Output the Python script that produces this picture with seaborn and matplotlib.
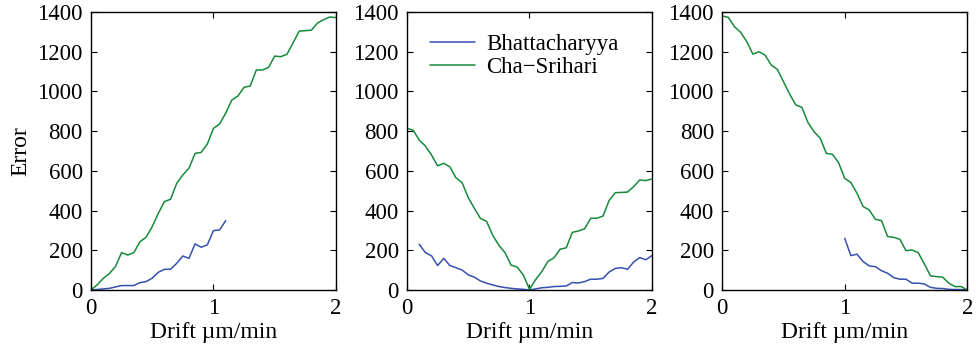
import numpy as np
import pandas as pd
import seaborn as sns
import matplotlib.pyplot as plt

# drift grid, step 0.05 um/min
drift = np.round(np.arange(0, 2.0001, 0.05), 2)

# panel 1
cha_1 = [0, 25, 58, 82, 118, 188, 176, 188, 243, 265, 319, 386, 445, 457, 537, 579, 613,
         688, 693, 735, 814, 836, 890, 957, 977, 1021, 1027, 1108, 1108, 1121, 1178, 1175,
         1187, 1245, 1304, 1306, 1309, 1345, 1362, 1375, 1372]
bha_1 = [0, 2, 5, 8, 15, 22, 22, 22, 37, 42, 59, 89, 104, 104, 134, 171, 159, 232, 215,
         227, 299, 302, 349]

# panel 2
cha_2 = [814, 805, 755, 725, 680, 625, 638, 620, 565, 540, 465, 411, 360, 345, 275, 225,
         188, 125, 115, 75, 3, 52, 92, 143, 162, 205, 212, 290, 297, 308, 361, 361, 372,
         450, 490, 491, 493, 520, 554, 551, 559]
bha_2 = [230, 188, 172, 123, 159, 123, 112, 100, 76, 64, 45, 34, 25, 17, 12, 8, 5, 3, 0,
         5, 11, 13, 17, 18, 20, 37, 35, 42, 54, 54, 58, 90, 108, 112, 104, 140, 163, 152, 173]

# panel 3
cha_3 = [1380, 1373, 1326, 1298, 1251, 1188, 1200, 1183, 1133, 1111, 1049, 987, 932, 920,
         843, 797, 764, 688, 683, 641, 562, 541, 487, 420, 403, 356, 349, 269, 265, 255,
         198, 201, 188, 131, 71, 67, 64, 34, 17, 17, 0]
bha_3 = [260, 173, 180, 143, 121, 117, 97, 84, 62, 54, 54, 34, 34, 30, 13, 8, 7, 3, 2, 2, 0]

panels = [
    (drift[:len(bha_1)], bha_1, drift, cha_1),
    (drift[2:], bha_2, drift, cha_2),
    (drift[-len(bha_3):], bha_3, drift, cha_3),
]

blue = '#3550b0'
green = '#168a3a'

sns.set_style("ticks")
plt.rcParams['font.family'] = ['Liberation Serif', 'DejaVu Serif']
plt.rcParams['text.color'] = 'black'
plt.rcParams['axes.labelcolor'] = 'black'
plt.rcParams['xtick.color'] = 'black'
plt.rcParams['ytick.color'] = 'black'

fig = plt.figure(figsize=(9.76, 3.54), dpi=100)
lefts = [0.0932, 0.417, 0.740]
w = 0.251
bottom, top = 0.181, 0.966

for i, (bx, by, cx, cy) in enumerate(panels):
    ax = fig.add_axes([lefts[i], bottom, w, top - bottom])
    df = pd.concat([
        pd.DataFrame({'drift': bx, 'err': by, 'method': 'Bhattacharyya'}),
        pd.DataFrame({'drift': cx, 'err': cy, 'method': 'Cha\u2212Srihari'}),
    ])
    sns.lineplot(data=df, x='drift', y='err', hue='method',
                 palette=[blue, green], linewidth=1.1, ax=ax,
                 legend=(i == 1))
    ax.set_xlim(0, 2)
    ax.set_ylim(0, 1400)
    ax.set_xticks([0, 1, 2])
    ax.set_yticks(range(0, 1401, 200))
    ax.tick_params(direction='in', top=True, right=True, labelsize=16.5,
                   length=4, width=0.8, pad=6)
    for s in ax.spines.values():
        s.set_linewidth(1.0)
        s.set_color('black')
    ax.set_xlabel('Drift \u00b5m/min', fontsize=17, labelpad=2)
    ax.set_ylabel('Error' if i == 0 else '', fontsize=17)
    if i == 1:
        ax.legend(loc='upper left', frameon=False, fontsize=16.5, handlelength=1.95,
                  borderaxespad=0.3, labelspacing=0.1, handletextpad=0.5,
                  bbox_to_anchor=(0.03, 0.98))

fig.savefig('out.png', dpi=100)
